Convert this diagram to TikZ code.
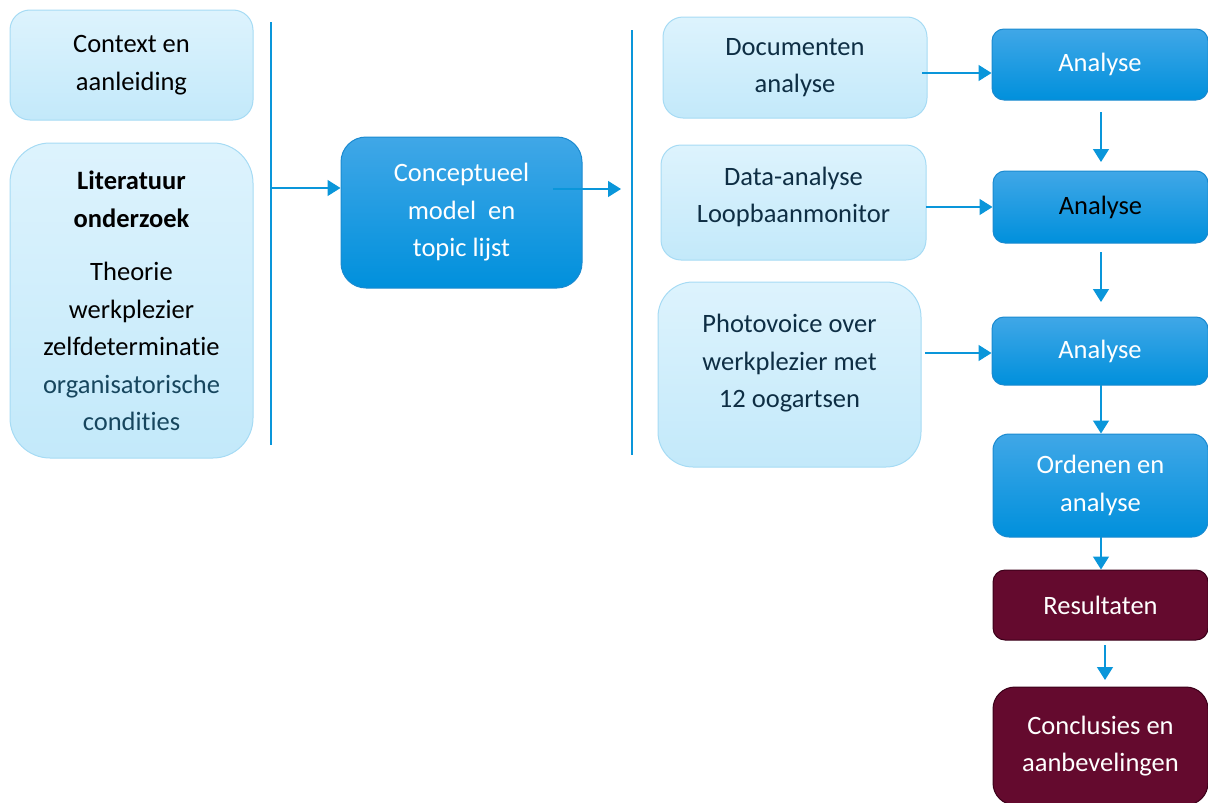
\documentclass[tikz,border=0pt]{standalone}
\usepackage{fontspec}
\setmainfont{Carlito}[Ligatures=NoCommon]
\usetikzlibrary{arrows.meta}
\definecolor{lbtop}{HTML}{DDF3FD}
\definecolor{lbbot}{HTML}{C3E9FA}
\definecolor{lbdraw}{HTML}{A6DBF4}
\definecolor{btop}{HTML}{40A7E7}
\definecolor{bbot}{HTML}{0090DC}
\definecolor{bdraw}{HTML}{1A8AD0}
\definecolor{mfill}{HTML}{640A2E}
\definecolor{mdraw}{HTML}{3B0019}
\definecolor{arr}{HTML}{0A96DA}
\definecolor{navy}{HTML}{0E2E44}
\definecolor{tealtxt}{HTML}{17465E}
\tikzset{
  base/.style={align=center, inner sep=0pt, line width=1pt, font=\fontsize{26.5}{37.5}\selectfont},
  lbox/.style={base, draw=lbdraw, top color=lbtop, bottom color=lbbot},
  bbox/.style={base, draw=bdraw, top color=btop, bottom color=bbot, text=white},
  mbox/.style={base, draw=mdraw, fill=mfill, text=white},
  txt/.style={align=center, inner sep=0pt, font=\fontsize{26.5}{37.5}\selectfont},
  plain/.style={draw=arr, line width=1.4pt},
  conn/.style={draw=arr, line width=1.4pt, -{Triangle[length=13pt,width=16pt]}}
}
\begin{document}
\begin{tikzpicture}[x=1pt,y=-1pt]
\useasboundingbox (0,0) rectangle (1208,803);
% left column
\node[lbox, minimum width=243pt, minimum height=110pt, rounded corners=20pt] (ctx) at (131.5,65) {Context en\\aanleiding};
\node[lbox, minimum width=243pt, minimum height=315pt, rounded corners=40pt] (lit) at (131.5,300.5) {};
\node[txt] (littxt) at (131.5,301) {\textbf{Literatuur}\\\textbf{onderzoek}\\[16pt]Theorie\\werkplezier\\zelfdeterminatie\\\textcolor{tealtxt}{organisatorische}\\\textcolor{tealtxt}{condities}};
% first bracket
\coordinate (v1t) at (271,22);
\coordinate (v1b) at (271,445);
\coordinate (h1) at (271,188);
\draw[plain] (v1t) -- (v1b);
% concept box
\node[bbox, minimum width=241pt, minimum height=151pt, rounded corners=25pt] (con) at (461.5,212.5) {Conceptueel\\model\ \ en\\topic lijst};
\draw[conn] (h1) -- (h1 -| con.west);
\coordinate (c2s) at (553,189);
\coordinate (c2e) at (621,189);
\draw[conn] (c2s) -- (c2e);
% second bracket
\coordinate (v2t) at (632,30);
\coordinate (v2b) at (632,455);
\draw[plain] (v2t) -- (v2b);
% middle column
\node[lbox, text=navy, minimum width=264pt, minimum height=101pt, rounded corners=20pt] (doc) at (795,67.5) {Documenten\\analyse};
\node[lbox, text=navy, minimum width=265pt, minimum height=115pt, rounded corners=20pt] (dat) at (793.5,202.5) {};
\node[txt, text=navy] (dattxt) at (793.5,197) {Data-analyse\\Loopbaanmonitor};
\node[lbox, minimum width=263pt, minimum height=185pt, rounded corners=35pt] (pho) at (789.5,374.5) {};
\node[txt, text=navy] (photxt) at (789.5,363.5) {Photovoice over\\werkplezier met\\12 oogartsen};
% right column
\node[bbox, minimum width=216pt, minimum height=71pt, rounded corners=12pt] (an1) at (1100,64.5) {Analyse};
\node[bbox, text=black, minimum width=215pt, minimum height=72pt, rounded corners=12pt] (an2) at (1100.5,207) {Analyse};
\node[bbox, minimum width=216pt, minimum height=68pt, rounded corners=12pt] (an3) at (1100,351) {Analyse};
\node[bbox, minimum width=215pt, minimum height=103pt, rounded corners=16pt] (ord) at (1100.5,485.5) {Ordenen en\\analyse};
\node[mbox, minimum width=215pt, minimum height=70pt, rounded corners=12pt] (res) at (1100.5,605) {Resultaten};
\node[mbox, minimum width=215pt, minimum height=118pt, rounded corners=22pt] (concl) at (1100.5,746) {Conclusies en\\aanbevelingen};
% horizontal arrows
\coordinate (d1) at (922,73);
\coordinate (d2) at (926,207);
\coordinate (d3) at (925,353);
\draw[conn] (d1) -- (d1 -| an1.west);
\draw[conn] (d2) -- (d2 -| an2.west);
\draw[conn] (d3) -- (d3 -| an3.west);
% vertical arrows
\coordinate (a1s) at (1101,112);
\coordinate (a1e) at (1101,162);
\coordinate (a2s) at (1101,252);
\coordinate (a2e) at (1101,302);
\coordinate (a3s) at (1101,385);
\coordinate (a4s) at (1101,537);
\coordinate (a5s) at (1105,645);
\coordinate (a5e) at (1105,680);
\draw[conn] (a1s) -- (a1e);
\draw[conn] (a2s) -- (a2e);
\draw[conn] (a3s) -- (a3s |- ord.north);
\draw[conn] (a4s) -- (a4s |- res.north);
\draw[conn] (a5s) -- (a5e);
\end{tikzpicture}
\end{document}
